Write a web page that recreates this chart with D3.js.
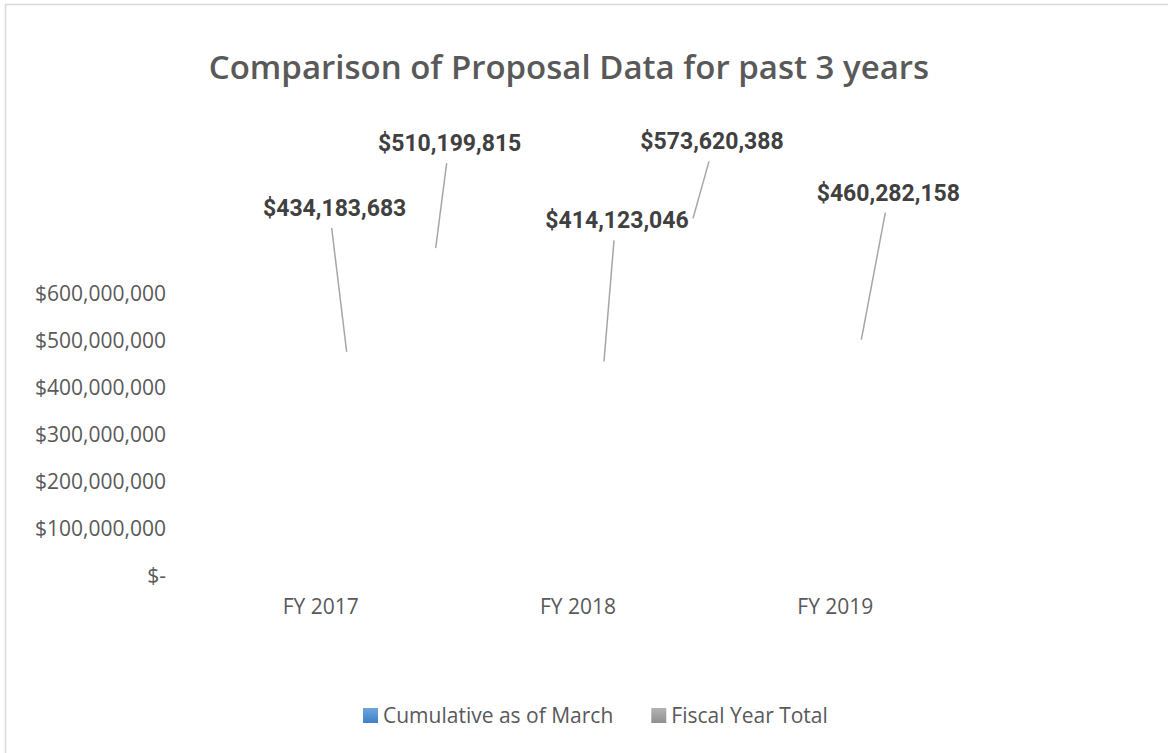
<!DOCTYPE html>
<html>
<head>
<meta charset="utf-8">
<script src="https://cdn.jsdelivr.net/npm/d3@7/dist/d3.min.js"></script>
<style>
  html, body { margin: 0; padding: 0; background: #fff; }
  svg { display: block; }
</style>
</head>
<body>
<div id="chart"></div>
<script>
// chart data
const categories = ["FY 2017", "FY 2018", "FY 2019"];
const seriesNames = ["Cumulative as of March", "Fiscal Year Total"];
const cumulativeAsOfMarch = [434183683, 414123046, 460282158];
const fiscalYearTotal = [510199815, 573620388, null];
const yTickValues = [0, 100000000, 200000000, 300000000, 400000000, 500000000, 600000000];

// label placement (dragged labels), offsets from the leader anchor
const labelNudge = [
    [-12, -144], [14, -105],
    [13, -141], [19, -77],
    [27, -147]
];

const W = 1168, H = 753;
const plot = { left: 192, right: 964, top: 294, bottom: 576 };
const seriesColors = [["#6ea6dd", "#3e80c8"], ["#b3b3b3", "#909090"]];
// where Excel anchors leader lines for each series, relative to band centre / value
const anchorShift = [[26, -20], [115, -88]];

const svg = d3.select("#chart").append("svg")
    .attr("width", W)
    .attr("height", H);

svg.append("rect").attr("width", W).attr("height", H).attr("fill", "#fff");

// chart area border
svg.append("rect")
    .attr("x", 5.5).attr("y", 4.5)
    .attr("width", W + 20).attr("height", H + 20)
    .attr("fill", "none")
    .attr("stroke", "#d9d9d9")
    .attr("stroke-width", 1.5);

const defs = svg.append("defs");
seriesColors.forEach((c, i) => {
    const g = defs.append("linearGradient")
        .attr("id", "grad" + i)
        .attr("x1", 0).attr("y1", 0).attr("x2", 0).attr("y2", 1);
    g.append("stop").attr("offset", "0%").attr("stop-color", c[0]);
    g.append("stop").attr("offset", "100%").attr("stop-color", c[1]);
});

// title
svg.append("text")
    .attr("x", 569).attr("y", 67)
    .attr("dy", "0.35em")
    .attr("text-anchor", "middle")
    .style("font-family", "'Open Sans', sans-serif")
    .style("font-weight", 600)
    .style("font-size", "33px")
    .attr("fill", "#595959")
    .text("Comparison of Proposal Data for past 3 years");

// scales
const x = d3.scaleBand().domain(categories).range([plot.left, plot.right]);
const x1 = d3.scaleBand().domain(seriesNames).range([0, x.bandwidth()]).paddingOuter(0.5).paddingInner(0.1);
const y = d3.scaleLinear().domain([0, 600000000]).range([plot.bottom, plot.top]);

const fmt = d3.format(",");
const money = d => d === 0 ? "$-" : "$" + fmt(d);

// y axis
const yAxis = svg.append("g")
    .attr("transform", `translate(${plot.left},0)`)
    .call(d3.axisLeft(y).tickValues(yTickValues).tickFormat(money).tickSize(0).tickPadding(26));
yAxis.select(".domain").remove();
yAxis.selectAll("text")
    .style("font-family", "'Open Sans', sans-serif")
    .style("font-size", "21px")
    .attr("fill", "#595959");

// x axis
const xAxis = svg.append("g")
    .attr("transform", `translate(0,${plot.bottom})`)
    .call(d3.axisBottom(x).tickSize(0).tickPadding(23));
xAxis.select(".domain").remove();
xAxis.selectAll("text")
    .style("font-family", "'Open Sans', sans-serif")
    .style("font-size", "21px")
    .attr("fill", "#595959");

// rows of data
const rows = [];
categories.forEach((cat, ci) => {
    [cumulativeAsOfMarch, fiscalYearTotal].forEach((vals, si) => {
        if (vals[ci] != null) rows.push({ cat, si, value: vals[ci] });
    });
});

// bars (no fill in the original)
svg.append("g").selectAll("rect")
    .data(rows)
    .join("rect")
    .attr("x", d => x(d.cat) + x1(seriesNames[d.si]))
    .attr("y", d => y(d.value))
    .attr("width", x1.bandwidth())
    .attr("height", d => y(0) - y(d.value))
    .attr("fill", d => `url(#grad${d.si})`)
    .attr("fill-opacity", 0);

// leader lines + labels
rows.forEach((d, i) => {
    d.ax = x(d.cat) + x.bandwidth() / 2 + anchorShift[d.si][0];
    d.ay = y(d.value) + anchorShift[d.si][1];
    d.lx = d.ax + labelNudge[i][0];
    d.ly = d.ay + labelNudge[i][1];
});

svg.append("g").selectAll("line")
    .data(rows)
    .join("line")
    .attr("x1", d => d.lx - 3)
    .attr("y1", d => d.ly + 20)
    .attr("x2", d => d.ax)
    .attr("y2", d => d.ay)
    .attr("stroke", "#a6a6a6")
    .attr("stroke-width", 1.5);

svg.append("g").selectAll("text")
    .data(rows)
    .join("text")
    .attr("x", d => d.lx)
    .attr("y", d => d.ly)
    .attr("dy", "0.35em")
    .attr("text-anchor", "middle")
    .style("font-family", "Roboto, sans-serif")
    .style("font-weight", 700)
    .style("font-size", "23px")
    .attr("fill", "#404040")
    .text(d => "$" + fmt(d.value));

// legend
const legend = svg.append("g").attr("transform", "translate(363,716)");
let lx = 0;
seriesNames.forEach((name, i) => {
    const item = legend.append("g").attr("transform", `translate(${lx},0)`);
    item.append("rect")
        .attr("x", 0).attr("y", -8)
        .attr("width", 15).attr("height", 15)
        .attr("fill", `url(#grad${i})`);
    const t = item.append("text")
        .attr("x", 20).attr("y", 0)
        .attr("dy", "0.35em")
        .style("font-family", "'Open Sans', sans-serif")
        .style("font-size", "21px")
        .attr("fill", "#595959")
        .text(name);
    lx += 20 + t.node().getComputedTextLength() + 38;
});
</script>
</body>
</html>
